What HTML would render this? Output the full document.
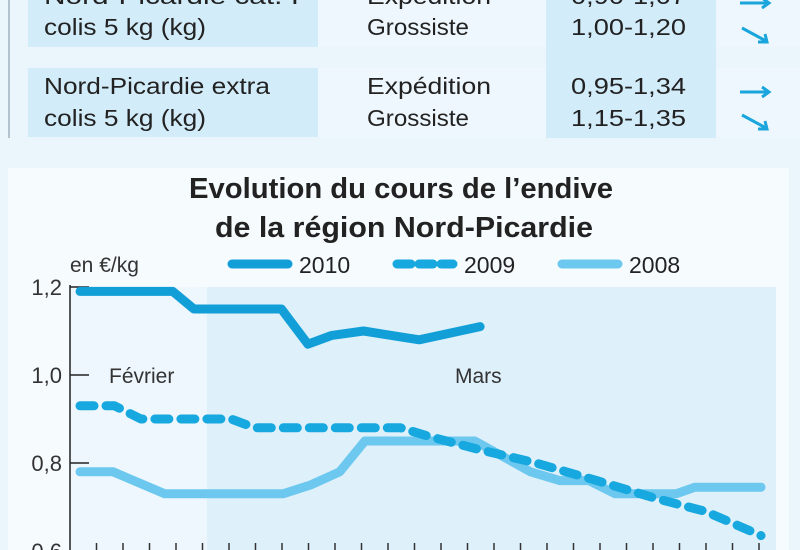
<!DOCTYPE html>
<html><head><meta charset="utf-8"><style>
html,body{margin:0;padding:0;background:#eaf5fc;width:800px;height:550px;overflow:hidden}
svg{display:block;font-family:"Liberation Sans Narrow","Liberation Sans",sans-serif}
</style></head><body>
<svg id="c" width="800" height="550" viewBox="0 0 800 550">
<rect x="0" y="0" width="800" height="550" fill="#eaf5fc"/>
<g>
<line x1="9" y1="0" x2="9" y2="138" stroke="#9fb3c0" stroke-width="1.5"/>
<rect x="28" y="0" width="290" height="47" fill="#d3ecf9"/>
<rect x="318" y="0" width="228" height="47" fill="#eef7fd"/>
<rect x="546" y="0" width="170" height="138" fill="#d3ecf9"/>
<rect x="716" y="0" width="84" height="47" fill="#eef7fd"/>
<rect x="28" y="68" width="290" height="69" fill="#d3ecf9"/>
<rect x="318" y="68" width="228" height="69" fill="#eef7fd"/>
<rect x="716" y="68" width="84" height="69" fill="#eef7fd"/>
<g font-family="Liberation Sans" font-size="23" fill="#222">
<text x="44" y="4" textLength="255" lengthAdjust="spacingAndGlyphs">Nord-Picardie cat. I</text>
<text x="44" y="35" textLength="162" lengthAdjust="spacingAndGlyphs">colis 5 kg (kg)</text>
<text x="367" y="4" textLength="124" lengthAdjust="spacingAndGlyphs">Expédition</text>
<text x="367" y="35" textLength="102" lengthAdjust="spacingAndGlyphs">Grossiste</text>
<text x="571" y="4" textLength="115" lengthAdjust="spacingAndGlyphs">0,90-1,07</text>
<text x="571" y="35" textLength="115" lengthAdjust="spacingAndGlyphs">1,00-1,20</text>
<text x="44" y="94" textLength="226" lengthAdjust="spacingAndGlyphs">Nord-Picardie extra</text>
<text x="44" y="126" textLength="162" lengthAdjust="spacingAndGlyphs">colis 5 kg (kg)</text>
<text x="367" y="94" textLength="124" lengthAdjust="spacingAndGlyphs">Expédition</text>
<text x="367" y="126" textLength="102" lengthAdjust="spacingAndGlyphs">Grossiste</text>
<text x="571" y="94" textLength="115" lengthAdjust="spacingAndGlyphs">0,95-1,34</text>
<text x="571" y="126" textLength="115" lengthAdjust="spacingAndGlyphs">1,15-1,35</text>
</g>
<g fill="none" stroke="#1aa6dc" stroke-width="3">
<path d="M740 3 H768 M762 -2 L769 3 L762 8"/>
<path d="M742 28 L766 41 M758 42 L767 42 L765 34"/>
<path d="M740 92 H768 M762 87 L769 92 L762 97"/>
<path d="M742 115 L766 128 M758 129 L767 129 L765 121"/>
</g>
</g>
<rect x="8" y="168" width="781" height="382" fill="#f6fbfe"/>
<text x="401" y="198" text-anchor="middle" font-size="29" font-weight="bold" fill="#222" textLength="424" lengthAdjust="spacingAndGlyphs">Evolution du cours de l’endive</text>
<text x="404" y="237" text-anchor="middle" font-size="29" font-weight="bold" fill="#222" textLength="378" lengthAdjust="spacingAndGlyphs">de la région Nord-Picardie</text>
<g id="plot"></g>
</svg>
<script>
const yTicks=[0.6,0.8,1.0,1.2];
const yTickLabels=["0,6","0,8","1,0","1,2"];
const days2010=[0,3.5,4.3,7.6,8.6,9.5,10.7,12.8,15.1];
const vals2010=[1.19,1.19,1.15,1.15,1.07,1.09,1.10,1.08,1.11];
const days2009=[0,1.3,2.3,5.7,6.6,12.1,13.2,15.1,17.2,19.5,21.7,23.6,25.7];
const vals2009=[0.93,0.93,0.90,0.90,0.88,0.88,0.86,0.83,0.80,0.76,0.72,0.69,0.635];
const days2008=[0,1.25,3.2,7.66,8.7,9.8,10.75,14.9,17,18.1,19.2,20.2,22.5,23.2,25.7];
const vals2008=[0.78,0.78,0.73,0.73,0.75,0.78,0.85,0.85,0.78,0.76,0.76,0.73,0.73,0.745,0.745];
const nTicks=27;
const NS="http://www.w3.org/2000/svg";
const X0=80,DX=26.5,Y12=287,PXV=440;
const xs=d=>X0+d*DX;
const ys=v=>Y12+(1.2-v)*PXV;
const g=document.getElementById('plot');
function mk(t,a,p){const e=document.createElementNS(NS,t);for(const k in a)e.setAttribute(k,a[k]);(p||g).appendChild(e);return e;}
let r=mk('rect',{x:70,y:287,width:137,height:263,fill:'#eef7fd'});


r=mk('rect',{x:207,y:287,width:569,height:263,fill:'#def0fa'});


let ax=mk('line',{x1:70,y1:285,x2:70,y2:550,stroke:'#222','stroke-width':1.5});


yTicks.forEach((v,i)=>{
 let t=mk('line',{x1:70,y1:ys(v),x2:89,y2:ys(v),stroke:'#222','stroke-width':1.5});
 
 
 let l=mk('text',{x:62,y:ys(v)+8,'text-anchor':'end','font-size':22,fill:'#333','font-family':'Liberation Sans'});
 l.textContent=yTickLabels[i];
 
 
});
for(let i=1;i<nTicks;i++){
 let t=mk('line',{x1:xs(i)-10,y1:543,x2:xs(i)-10,y2:550,stroke:'#333','stroke-width':1.5});
 
 
}
function txt(x,y,s,fs,name,ff){let e=mk('text',{x:x,y:y,'font-size':fs,fill:'#333','font-family':ff||'Liberation Sans'});e.textContent=s;return e;}
txt(109,383,'Février',21,'february-label');
txt(455,383,'Mars',21,'march-label');
txt(70,272,'en €/kg',21,'y-unit-label');
function line(days,vals,color,dash,name){
 const d=days.map((dd,i)=>(i?'L':'M')+xs(dd).toFixed(1)+' '+ys(vals[i]).toFixed(1)).join(' ');
 const a={d:d,fill:'none',stroke:color,'stroke-width':9,'stroke-linejoin':'round','stroke-linecap':'round'};
 if(dash)a['stroke-dasharray']='14 12';
 const p=mk('path',a);
 
 
}
line(days2008,vals2008,'#6cc8ef',false,'series-2008');
line(days2009,vals2009,'#16a8de',true,'series-2009');
line(days2010,vals2010,'#129fd8',false,'series-2010');
function leg(x,color,dash,label,name){
 const lg=mk('g',{});
 
 
 const a={x1:x,y1:264,x2:x+56,y2:264,stroke:color,'stroke-width':9,'stroke-linecap':'round'};
 if(dash)a['stroke-dasharray']='14 8';
 mk('line',a,lg);
 const t=mk('text',{x:x+67,y:273,'font-size':23,fill:'#222','font-family':'Liberation Sans'},lg);
 t.textContent=label;
}
leg(232,'#129fd8',false,'2010','legend-2010');
leg(397,'#16a8de',true,'2009','legend-2009');
leg(562,'#6cc8ef',false,'2008','legend-2008');
</script>
</body></html>
